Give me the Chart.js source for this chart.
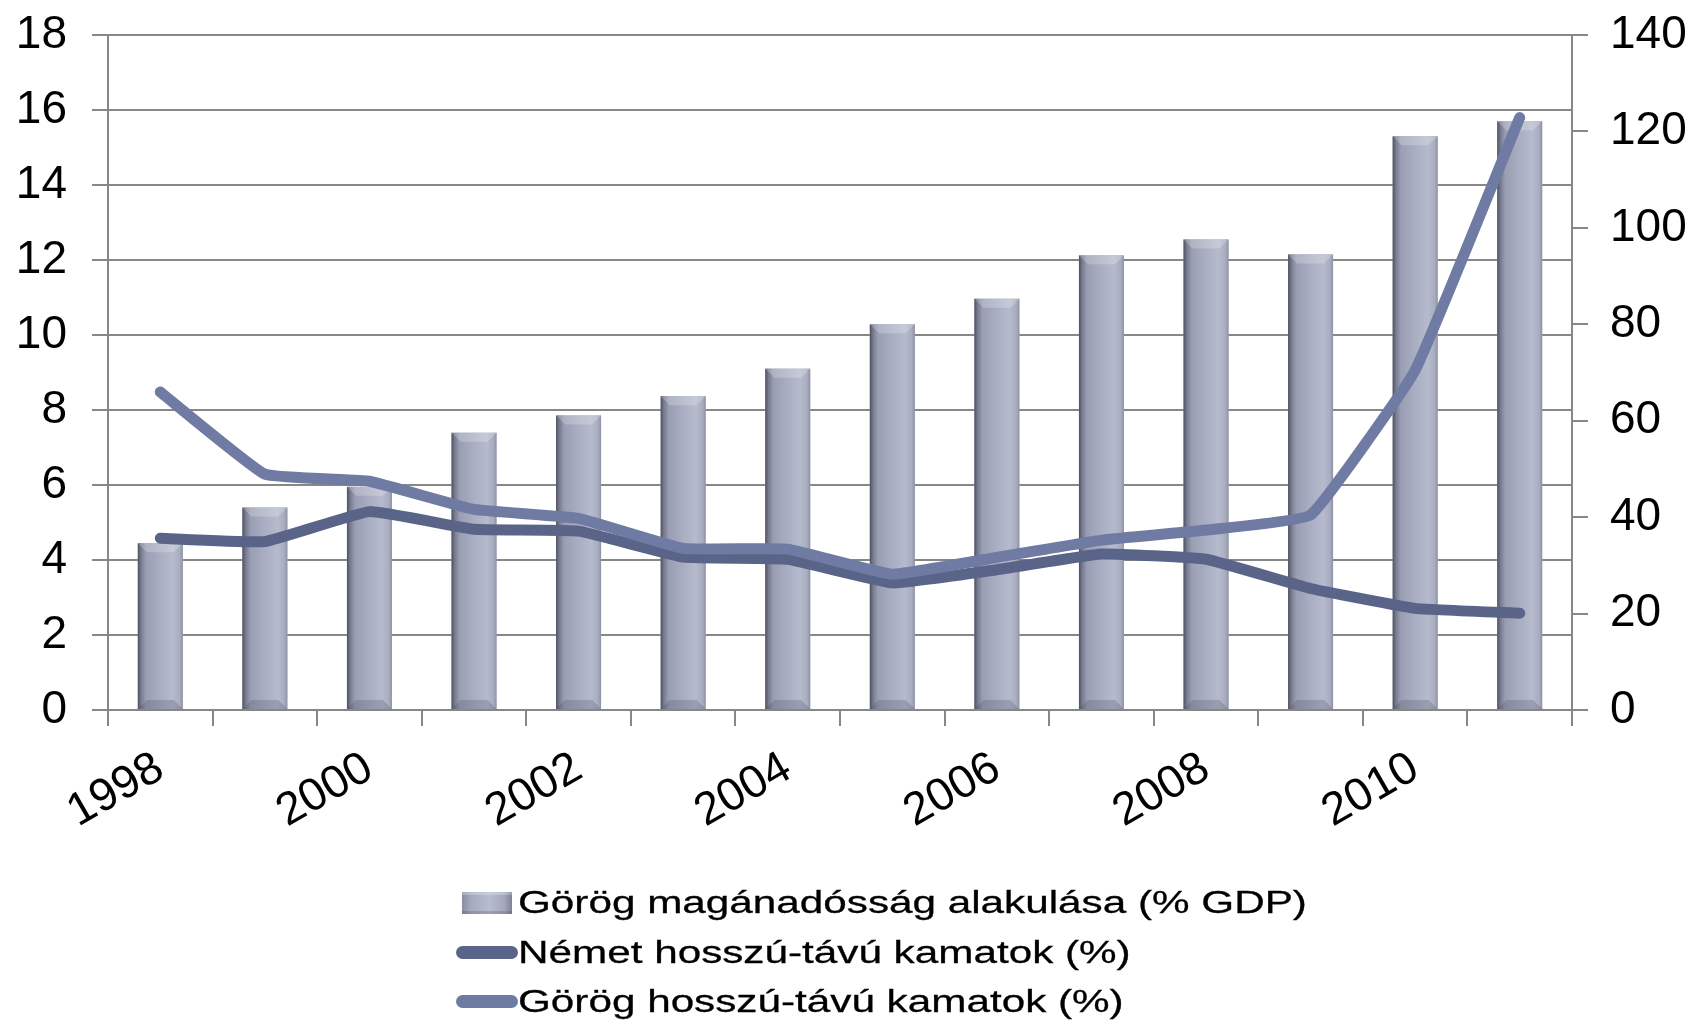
<!DOCTYPE html>
<html>
<head>
<meta charset="utf-8">
<script src="https://cdn.jsdelivr.net/npm/chart.js@4.4.1/dist/chart.umd.min.js"></script>
<style>
  html, body { margin: 0; padding: 0; background: #fff; overflow: hidden; }
  #wrap { position: relative; width: 1699px; height: 1023px; }
  #legend {
    position: absolute; left: 456px; top: 878px;
    font-family: 'Liberation Sans', Arial, sans-serif; font-size: 32px; color: #000;
  }
  .row { display: flex; align-items: center; height: 49.5px; white-space: nowrap; }
  .sw { flex: none; }
  .txt { display: inline-block; transform: scaleX(1.32); transform-origin: left center; -webkit-text-stroke: 0.3px #000; }
</style>
</head>
<body>
<div id="wrap">
  <canvas id="c" width="1699" height="1023"></canvas>
  <div id="legend"></div>
</div>
<script>
// years on the x axis
const years = ['1998', '1999', '2000', '2001', '2002', '2003', '2004',
               '2005', '2006', '2007', '2008', '2009', '2010', '2011'];
// bars, right axis (% GDP)
const debtPctGdp = [34.6, 42.0, 46.3, 57.5, 61.1, 65.1, 70.8, 80.0, 85.3, 94.3, 97.6, 94.5, 119.0, 122.1];
// lines, left axis (%)
const germanRates = [4.58, 4.49, 5.29, 4.82, 4.77, 4.08, 4.02, 3.39, 3.74, 4.16, 4.02, 3.24, 2.71, 2.58];
const greekRates = [8.48, 6.29, 6.10, 5.35, 5.11, 4.31, 4.29, 3.62, 4.07, 4.53, 4.80, 5.20, 9.06, 15.80];
// axis ranges
const leftTicks = [0, 2, 4, 6, 8, 10, 12, 14, 16, 18];
const rightTicks = [0, 20, 40, 60, 80, 100, 120, 140];

const seriesNames = [
  'Görög magánadósság alakulása (% GDP)',
  'Német hosszú-távú kamatok (%)',
  'Görög hosszú-távú kamatok (%)'
];

const gridGray = '#878787';

Chart.defaults.font.family = "'Liberation Sans', Arial, sans-serif";
Chart.defaults.color = '#000';

// bevelled look for the bars, drawn over each bar element
const barShade = {
  id: 'barShade',
  afterDatasetDraw(chart, args) {
    if (args.index !== 0) return;
    const ctx = chart.ctx;
    args.meta.data.forEach(bar => {
      const { x, y, width, base } = bar.getProps(['x', 'y', 'width', 'base'], true);
      const l = x - width / 2, r = x + width / 2, h = base - y;
      const g = ctx.createLinearGradient(l, 0, r, 0);
      g.addColorStop(0, '#4d505e');
      g.addColorStop(0.07, '#767a8e');
      g.addColorStop(0.18, '#9a9eb2');
      g.addColorStop(0.5, '#aaaec2');
      g.addColorStop(0.78, '#b6bacd');
      g.addColorStop(0.93, '#a9adc0');
      g.addColorStop(1, '#8d91a3');
      ctx.save();
      ctx.fillStyle = g;
      ctx.fillRect(l, y, width, h);
      const bv = Math.min(9, h / 2);
      ctx.fillStyle = 'rgba(255,255,255,0.22)';
      ctx.beginPath();
      ctx.moveTo(l, y); ctx.lineTo(r, y); ctx.lineTo(r - bv, y + bv); ctx.lineTo(l + bv, y + bv);
      ctx.closePath(); ctx.fill();
      ctx.fillStyle = 'rgba(70,74,92,0.25)';
      ctx.beginPath();
      ctx.moveTo(l, base); ctx.lineTo(r, base); ctx.lineTo(r - bv, base - bv); ctx.lineTo(l + bv, base - bv);
      ctx.closePath(); ctx.fill();
      ctx.restore();
    });
  }
};

// fixed axis sizes so the plot area sits where it does in the original
const fixY = w => s => { s.width = w; s.paddingTop = 0; s.paddingBottom = 0; };

const chart = new Chart(document.getElementById('c'), {
  data: {
    labels: years,
    datasets: [
      {
        type: 'bar',
        label: seriesNames[0],
        data: debtPctGdp,
        yAxisID: 'y1',
        backgroundColor: '#a9adc1',
        barPercentage: 0.43,
        categoryPercentage: 1.0,
        order: 3
      },
      {
        type: 'line',
        label: seriesNames[1],
        data: germanRates,
        yAxisID: 'y',
        borderColor: '#5a6488',
        borderWidth: 11,
        borderCapStyle: 'round',
        borderJoinStyle: 'round',
        pointRadius: 0,
        tension: 0.1,
        order: 2
      },
      {
        type: 'line',
        label: seriesNames[2],
        data: greekRates,
        yAxisID: 'y',
        borderColor: '#6f7ba3',
        borderWidth: 11,
        borderCapStyle: 'round',
        borderJoinStyle: 'round',
        pointRadius: 0,
        tension: 0.1,
        order: 1
      }
    ]
  },
  options: {
    responsive: false,
    animation: false,
    devicePixelRatio: 1,
    layout: { padding: { top: 35, left: 0, right: 0, bottom: 0 } },
    plugins: {
      legend: { display: false },
      tooltip: { enabled: false }
    },
    scales: {
      x: {
        offset: true,
        grid: { drawOnChartArea: false, offset: true, color: gridGray, lineWidth: 2, tickLength: 16 },
        border: { color: gridGray, width: 2 },
        ticks: {
          autoSkip: false,
          minRotation: 30,
          maxRotation: 30,
          padding: 15,
          font: { size: 46 },
          callback: (v, i) => (i % 2 === 0 ? years[i] : '')
        },
        afterFit: s => { s.height = 313; s.paddingLeft = 0; s.paddingRight = 0; }
      },
      y: {
        position: 'left',
        min: leftTicks[0],
        max: leftTicks[leftTicks.length - 1],
        ticks: { stepSize: leftTicks[1] - leftTicks[0], padding: 25, font: { size: 46 } },
        grid: { color: gridGray, lineWidth: 2, tickLength: 16 },
        border: { color: gridGray, width: 2 },
        afterFit: fixY(108)
      },
      y1: {
        position: 'right',
        min: rightTicks[0],
        max: rightTicks[rightTicks.length - 1],
        ticks: { stepSize: rightTicks[1] - rightTicks[0], padding: 22, font: { size: 46 } },
        grid: { drawOnChartArea: false, color: gridGray, lineWidth: 2, tickLength: 16 },
        border: { color: gridGray, width: 2 },
        afterFit: fixY(127)
      }
    }
  },
  plugins: [barShade]
});

// legend: one item per row, like the original
const legendBox = document.getElementById('legend');
chart.data.datasets.forEach(ds => {
  const row = document.createElement('div');
  row.className = 'row';
  const sw = document.createElement('span');
  sw.className = 'sw';
  if (ds.type === 'bar') {
    sw.style.cssText = 'width:50px;height:22px;margin-left:6px;margin-right:6px;' +
      'background:linear-gradient(90deg,#8a8ea0 0%,#a6aabd 18%,#b8bccf 55%,#a3a7ba 85%,#7e8294 100%);' +
      'box-shadow:inset 0 3px 0 rgba(255,255,255,0.25), inset 0 -3px 0 rgba(70,74,92,0.25);';
  } else {
    sw.style.cssText = 'width:62px;height:13px;border-radius:6.5px;background:' + ds.borderColor + ';';
  }
  const txt = document.createElement('span');
  txt.className = 'txt';
  txt.textContent = ds.label;
  row.appendChild(sw);
  row.appendChild(txt);
  legendBox.appendChild(row);
});
</script>
</body>
</html>
